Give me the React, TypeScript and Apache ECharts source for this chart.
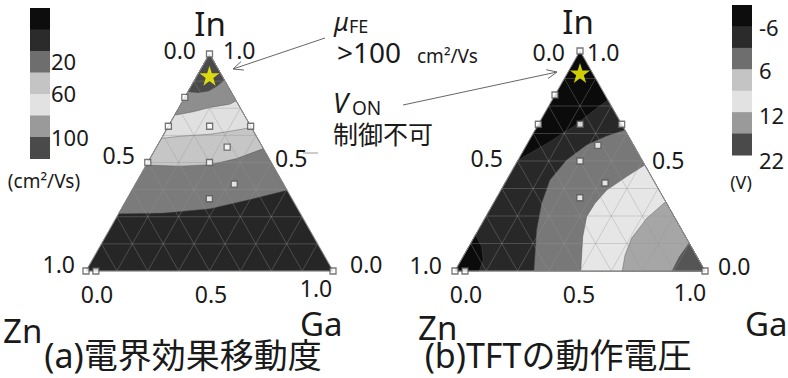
import React, { useEffect, useRef } from "react";
import * as echarts from "echarts";

const FONT = "'Noto Sans', 'Noto Sans CJK JP', sans-serif";

// ---- data ----
// sample compositions [In, Ga, Zn]
const samplesMu = [
  [1, 0, 0], [0.8, 0, 0.2], [0.667, 0, 0.333], [0.5, 0, 0.5],
  [0.667, 0.333, 0], [0.667, 0.167, 0.167], [0.571, 0.286, 0.143],
  [0.5, 0.25, 0.25], [0.4, 0.4, 0.2], [0.333, 0.333, 0.333],
  [0, 0, 1], [0, 0.04, 0.96], [0, 1, 0],
];
const samplesVon = [
  [1, 0, 0], [0.8, 0, 0.2], [0.667, 0, 0.333],
  [0.667, 0.333, 0], [0.667, 0.167, 0.167], [0.571, 0.286, 0.143],
  [0.5, 0.25, 0.25], [0.4, 0.4, 0.2], [0.333, 0.333, 0.333],
  [0, 0, 1], [0, 0.04, 0.96], [0, 1, 0],
];
const bestComp = [[0.9, 0.05, 0.05]];

// contour boundaries, points as [Ga, In]
const muEdge100 = [[0, 0.826], [0.045, 0.822], [0.082, 0.83], [0.105, 0.852], [0.12, 0.88]];
const muEdge80 = [[0, 0.718], [0.0675, 0.734], [0.125, 0.754], [0.198, 0.769], [0.216, 0.784]];
const muEdge60 = [[0, 0.611], [0.07, 0.621], [0.187, 0.63], [0.261, 0.644], [0.339, 0.661]];
const muEdge40 = [[0, 0.488], [0.139, 0.483], [0.257, 0.49], [0.351, 0.518], [0.436, 0.564]];
const muEdge20 = [[0, 0.264], [0.18, 0.267], [0.358, 0.287], [0.487, 0.326], [0.628, 0.372]];

const vonEdgeM6 = [[0.223, 0.777], [0.182, 0.717], [0.145, 0.656], [0.086, 0.588], [0.0325, 0.535], [0, 0.5045]];
const vonEdge0 = [[0.359, 0.641], [0.3, 0.614], [0.24, 0.573], [0.194, 0.5045], [0.173, 0.4136], [0.193, 0.3076], [0.2335, 0.1864], [0.316, 0]];
const vonEdge6 = [[0.518, 0.482], [0.472, 0.429], [0.423, 0.368], [0.406, 0.308], [0.403, 0.247], [0.433, 0.156], [0.503, 0]];
const vonEdge12 = [[0.685, 0.315], [0.647, 0.239], [0.632, 0.1485], [0.644, 0.0727], [0.669, 0]];
const vonEdge22 = [[0.873, 0.127], [0.865, 0.065], [0.868, 0]];
const vonCornerEdge = [[0, 0.164], [0.051, 0.111], [0.088, 0.05], [0.097, 0]];

const gridTicks = [0.125, 0.25, 0.375, 0.5, 0.625, 0.75, 0.875];
const edgeTicks = ["0.0", "0.5", "1.0"];
const vertexNames = ["In", "Zn", "Ga"];
const muBarLabels = ["20", "60", "100"];
const vonBarLabels = ["-6", "6", "12", "22"];
const barColors = ["#0d0d0d", "#2b2b2b", "#6e6e6e", "#c4c4c4", "#e2e2e2", "#9a9a9a", "#4a4a4a"];

// ---- helpers ----
const IN_V = [0, 1];
const ZN_V = [0, 0];
const GA_V = [1, 0];
const toXY = (p: number[]) => [p[0] + p[1] / 2, p[1]];
const compXY = (c: number[]) => toXY([c[1], c[0]]);

const muPolys = [
  { pts: [ZN_V, GA_V, IN_V], color: "#262626" },
  { pts: [...muEdge20, IN_V], color: "#7b7b7b" },
  { pts: [...muEdge40, IN_V], color: "#c6c6c6" },
  { pts: [...muEdge60, IN_V], color: "#e0e0e0" },
  { pts: [...muEdge80, IN_V], color: "#8e8e8e" },
  { pts: [...muEdge100, IN_V], color: "#4a4a4a" },
];
const vonPolys = [
  { pts: [ZN_V, GA_V, IN_V], color: "#0b0b0b" },
  { pts: [...vonEdgeM6, ZN_V, GA_V], color: "#282828" },
  { pts: [...vonEdge0, GA_V], color: "#787878" },
  { pts: [...vonEdge6, GA_V], color: "#e6e6e6" },
  { pts: [...vonEdge12, GA_V], color: "#a6a6a6" },
  { pts: [...vonEdge22, GA_V], color: "#555555" },
  { pts: [...vonCornerEdge, ZN_V], color: "#0b0b0b" },
];

const STAR = "path://M50,2 L61,36 L97,36 L68,57 L79,92 L50,71 L21,92 L32,57 L3,36 L39,36 Z";

function triSeries(g: number, polys: any[], samples: number[][]) {
  return [
    {
      type: "custom", xAxisIndex: g, yAxisIndex: g, silent: true, clip: false, z: 1,
      data: polys.map(() => [0.5, 0.5]),
      renderItem: (params: any, api: any) => {
        const r = polys[params.dataIndex];
        return {
          type: "polygon",
          shape: { points: r.pts.map((p: number[]) => api.coord(toXY(p))) },
          style: { fill: r.color, stroke: "rgba(80,80,80,0.55)", lineWidth: 0.8 },
        };
      },
    },
    {
      type: "custom", xAxisIndex: g, yAxisIndex: g, silent: true, clip: false, z: 2,
      data: gridTicks.map(() => [0.5, 0.5]),
      renderItem: (params: any, api: any) => {
        const t = gridTicks[params.dataIndex];
        const seg = (a: number[], b: number[]) => {
          const p1 = api.coord(toXY(a));
          const p2 = api.coord(toXY(b));
          return { type: "line", shape: { x1: p1[0], y1: p1[1], x2: p2[0], y2: p2[1] }, style: { stroke: "rgba(150,150,150,0.35)", lineWidth: 1 } };
        };
        return { type: "group", children: [seg([0, t], [1 - t, t]), seg([t, 0], [t, 1 - t]), seg([0, 1 - t], [1 - t, 0])] };
      },
    },
    {
      type: "custom", xAxisIndex: g, yAxisIndex: g, silent: true, clip: false, z: 3,
      data: [[0.5, 0.5]],
      renderItem: (params: any, api: any) => ({
        type: "polygon",
        shape: { points: [ZN_V, GA_V, IN_V].map((p) => api.coord(toXY(p))) },
        style: { fill: "none", stroke: "#8a8a8a", lineWidth: 1 },
      }),
    },
    {
      type: "scatter", xAxisIndex: g, yAxisIndex: g, silent: true, z: 4,
      symbol: "rect", symbolSize: 6,
      itemStyle: { color: "#ffffff", borderColor: "#555555", borderWidth: 1.3 },
      data: samples.map(compXY),
    },
    {
      type: "scatter", xAxisIndex: g, yAxisIndex: g, silent: true, z: 5,
      symbol: STAR, symbolSize: 20,
      itemStyle: { color: "#ffff00" },
      data: bestComp.map(compXY),
    },
  ];
}

function txt(text: string, x: number, y: number, size: number, align = "left", extra: any = {}) {
  return {
    type: "text", x, y, z: 100,
    style: {
      text, fill: "#1a1a1a", font: `${extra.style || ""} ${size}px ${FONT}`,
      align, verticalAlign: "middle", textAlign: align, textVerticalAlign: "middle",
    },
  };
}

function arrow(from: number[], to: number[]) {
  const dx = from[0] - to[0], dy = from[1] - to[1];
  const L = Math.hypot(dx, dy);
  const ux = dx / L, uy = dy / L;
  const a = 0.42, len = 11;
  const c = Math.cos(a), s = Math.sin(a);
  const h1 = [to[0] + len * (ux * c - uy * s), to[1] + len * (ux * s + uy * c)];
  const h2 = [to[0] + len * (ux * c + uy * s), to[1] + len * (-ux * s + uy * c)];
  return [
    { type: "line", z: 90, shape: { x1: from[0], y1: from[1], x2: to[0], y2: to[1] }, style: { stroke: "#666", lineWidth: 1 } },
    { type: "polyline", z: 90, shape: { points: [h1, to, h2] }, style: { stroke: "#666", lineWidth: 1, fill: null } },
  ];
}

function colorBar(x: number, y0: number, h: number) {
  return barColors.map((c, i) => ({
    type: "rect", z: 50,
    shape: { x, y: y0 + i * h, width: 20, height: h + 0.5 },
    style: { fill: c },
  }));
}

const graphics: any[] = [
  ...colorBar(30, 8, 21.5),
  ...colorBar(732, 5, 21.43),
  txt(muBarLabels[0], 51, 61, 22),
  txt(muBarLabels[1], 51, 93, 22),
  txt(muBarLabels[2], 51, 137, 22),
  txt("(cm²/Vs)", 44, 181, 19, "center"),
  txt(vonBarLabels[0], 759, 27, 22),
  txt(vonBarLabels[1], 759, 70, 22),
  txt(vonBarLabels[2], 759, 115, 22),
  txt(vonBarLabels[3], 759, 160, 22),
  txt("(V)", 741, 182, 18, "center"),
  // left triangle labels
  txt(vertexNames[0], 210, 23, 33, "center"),
  txt(vertexNames[1], 3, 330, 33),
  txt(vertexNames[2], 300, 323, 33),
  txt(edgeTicks[0], 196, 50, 23, "right"),
  txt(edgeTicks[1], 135, 155, 23, "right"),
  txt(edgeTicks[2], 75, 264, 23, "right"),
  txt(edgeTicks[2], 223, 50, 23),
  txt(edgeTicks[1], 275, 158, 23),
  txt(edgeTicks[0], 350, 264, 23),
  txt(edgeTicks[0], 97, 294, 23, "center"),
  txt(edgeTicks[1], 211, 294, 23, "center"),
  txt(edgeTicks[2], 316, 288, 23, "center"),
  { type: "line", z: 90, shape: { x1: 303, y1: 153, x2: 318, y2: 153 }, style: { stroke: "#999", lineWidth: 1 } },
  // right triangle labels
  txt(vertexNames[0], 578, 21, 33, "center"),
  txt(vertexNames[1], 418, 327, 33),
  txt(vertexNames[2], 745, 323, 33),
  txt(edgeTicks[0], 565, 52, 23, "right"),
  txt(edgeTicks[1], 503, 158, 23, "right"),
  txt(edgeTicks[2], 442, 265, 23, "right"),
  txt(edgeTicks[2], 587, 52, 23),
  txt(edgeTicks[1], 652, 160, 23),
  txt(edgeTicks[0], 718, 266, 23),
  txt(edgeTicks[0], 466, 294, 23, "center"),
  txt(edgeTicks[1], 579, 294, 23, "center"),
  txt(edgeTicks[2], 690, 292, 23, "center"),
  // annotations
  txt("μ", 334, 21, 25, "left", { style: "italic" }),
  txt("FE", 349, 26, 18),
  txt(">100", 337, 52, 28),
  txt("cm²/Vs", 417, 56, 19),
  txt("V", 333, 102, 27, "left", { style: "italic" }),
  txt("ON", 352, 108, 19),
  txt("制御不可", 333, 134, 25),
  ...arrow([325, 38], [233, 69]),
  ...arrow([403, 105], [557, 72]),
  // titles
  txt("(a)電界効果移動度", 183, 355, 34, "center"),
  txt("(b)TFTの動作電圧", 558, 355, 34, "center"),
];

const axisOff = (g: number) => ({ type: "value", min: 0, max: 1, show: false, gridIndex: g });

const option: any = {
  animation: false,
  backgroundColor: "#ffffff",
  grid: [
    { left: 86, top: 54, width: 247, height: 217 },
    { left: 455, top: 51, width: 250, height: 220 },
  ],
  xAxis: [axisOff(0), axisOff(1)],
  yAxis: [axisOff(0), axisOff(1)],
  series: [...triSeries(0, muPolys, samplesMu), ...triSeries(1, vonPolys, samplesVon)],
  graphic: graphics,
};

export default function App() {
  const ref = useRef<HTMLDivElement>(null);
  useEffect(() => {
    document.body.style.margin = "0";
    const chart = echarts.init(ref.current!, null, { renderer: "svg" });
    chart.setOption(option);
    return () => chart.dispose();
  }, []);
  return <div ref={ref} style={{ width: 788, height: 378 }} />;
}
